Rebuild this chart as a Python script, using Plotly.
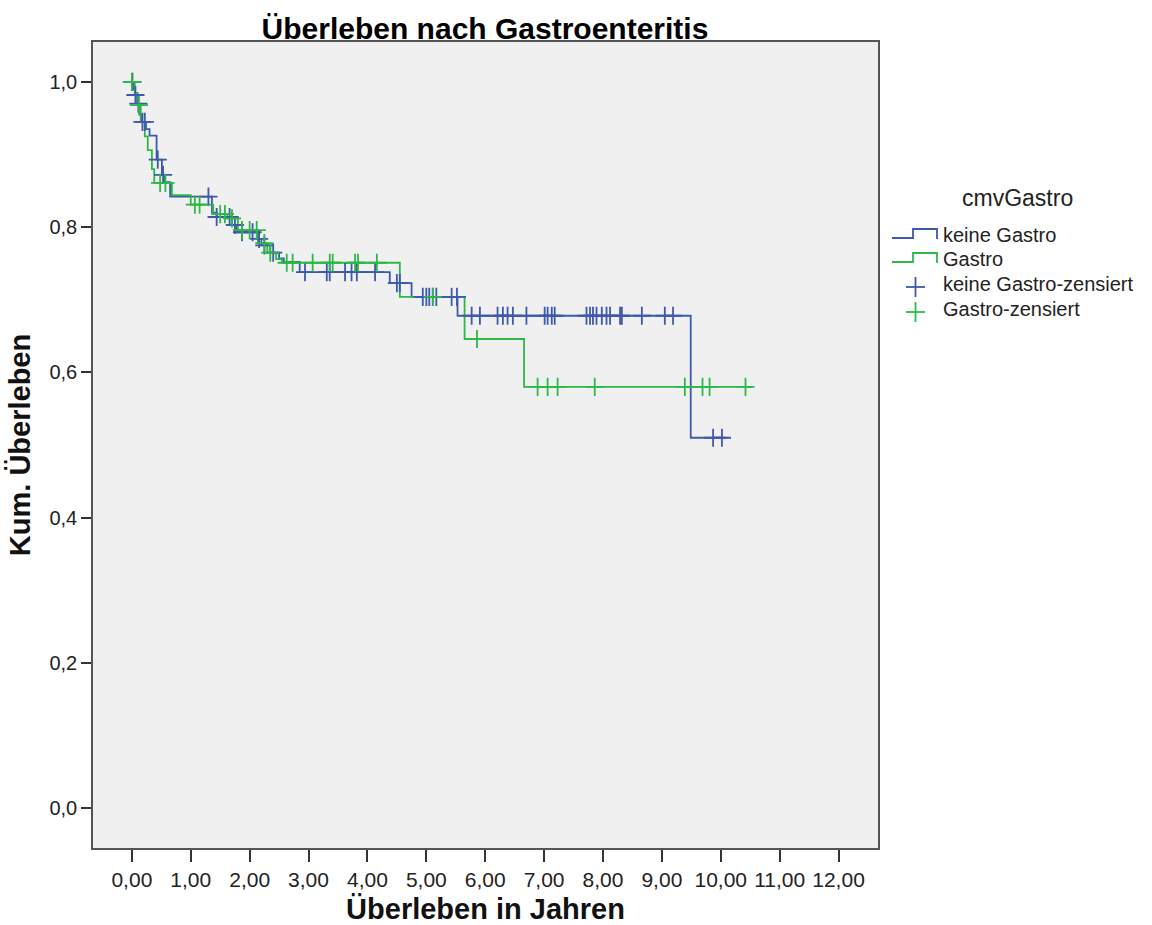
import numpy as np
import plotly.graph_objects as go

# ---------------- data ----------------
# keine Gastro: step times and survival after each step
blue_times = [0.00, 0.02, 0.05, 0.09, 0.13, 0.17, 0.24, 0.30, 0.42, 0.51, 0.56, 0.65,
              1.36, 1.44, 1.70, 1.78, 2.14, 2.20, 2.35, 2.50, 2.58, 2.85, 4.38, 4.75,
              5.53, 9.49]
blue_surv = [1.000, 0.990, 0.982, 0.970, 0.955, 0.945, 0.935, 0.926, 0.893, 0.872, 0.862, 0.842,
             0.820, 0.814, 0.803, 0.793, 0.784, 0.775, 0.765, 0.757, 0.752, 0.738, 0.723, 0.704,
             0.678, 0.510]
blue_end = 10.10
blue_censored = [0.01, 0.06, 0.11, 0.18, 0.22, 0.44, 0.53, 1.30, 1.44, 1.66, 1.75, 1.87,
                 2.05, 2.16, 2.25, 2.40, 2.94, 3.31, 3.36, 3.62, 3.73, 3.82, 4.13, 4.50,
                 4.55, 4.94, 5.00, 5.05, 5.11, 5.17, 5.43, 5.52, 5.77, 5.91, 6.21, 6.30,
                 6.38, 6.47, 6.70, 7.01, 7.06, 7.13, 7.18, 7.72, 7.78, 7.83, 7.89, 7.98,
                 8.06, 8.12, 8.29, 8.32, 8.66, 9.05, 9.19, 9.87, 10.02]

# Gastro
green_times = [0.00, 0.05, 0.10, 0.15, 0.22, 0.27, 0.34, 0.38, 0.68, 1.00, 1.38, 1.62,
               1.80, 2.14, 2.30, 2.45, 2.55, 4.55, 5.65, 6.66]
green_surv = [1.000, 0.985, 0.968, 0.945, 0.925, 0.906, 0.880, 0.861, 0.844, 0.831, 0.818, 0.812,
              0.796, 0.778, 0.765, 0.756, 0.751, 0.704, 0.646, 0.580]
green_end = 10.53
green_censored = [0.00, 0.12, 0.48, 0.57, 1.07, 1.15, 1.50, 1.58, 1.70, 1.87, 2.00, 2.12,
                  2.25, 2.35, 2.63, 2.73, 3.07, 3.36, 3.41, 3.79, 3.84, 4.16, 5.11, 5.86,
                  6.89, 7.06, 7.23, 7.86, 9.39, 9.69, 9.81, 10.42]

x_tickvals = list(range(0, 13))
x_ticktext = ["0,00", "1,00", "2,00", "3,00", "4,00", "5,00", "6,00", "7,00", "8,00",
              "9,00", "10,00", "11,00", "12,00"]
y_tickvals = [0.0, 0.2, 0.4, 0.6, 0.8, 1.0]
y_ticktext = ["0,0", "0,2", "0,4", "0,6", "0,8", "1,0"]

legend_title = "cmvGastro"
legend_labels = ["keine Gastro", "Gastro", "keine Gastro-zensiert", "Gastro-zensiert"]

BLUE = "#3E58AC"
GREEN = "#2EB848"
FONT = "Liberation Sans, Arial, sans-serif"

# plot-area geometry in pixels (used only to place the hand-drawn legend)
W, H = 1152, 925
ML, MR, MT, MB = 93, 274, 42, 77
PW, PH = W - ML - MR, H - MT - MB


def px(xp):
    return (xp - ML) / PW


def py(yp):
    return (H - MB - yp) / PH


def km_at(times, surv, t):
    idx = np.searchsorted(np.asarray(times), np.asarray(t), side="right") - 1
    return np.asarray(surv)[np.clip(idx, 0, len(surv) - 1)]


fig = go.Figure()
fig.add_trace(go.Scatter(x=blue_times + [blue_end], y=blue_surv + [blue_surv[-1]],
                         mode="lines", line=dict(color=BLUE, width=1.8, shape="hv"),
                         name=legend_labels[0], showlegend=False))
fig.add_trace(go.Scatter(x=green_times + [green_end], y=green_surv + [green_surv[-1]],
                         mode="lines", line=dict(color=GREEN, width=1.8, shape="hv"),
                         name=legend_labels[1], showlegend=False))
fig.add_trace(go.Scatter(x=blue_censored, y=km_at(blue_times, blue_surv, blue_censored),
                         mode="markers",
                         marker=dict(symbol="cross-thin", size=13, line=dict(color=BLUE, width=1.8)),
                         name=legend_labels[2], showlegend=False))
fig.add_trace(go.Scatter(x=green_censored, y=km_at(green_times, green_surv, green_censored),
                         mode="markers",
                         marker=dict(symbol="cross-thin", size=13, line=dict(color=GREEN, width=1.8)),
                         name=legend_labels[3], showlegend=False))

# ---------- hand-drawn legend (SPSS style step icons) ----------
shapes = []
annotations = []
annotations.append(dict(text=legend_title, x=px(1017), y=py(198), xref="paper", yref="paper",
                        xanchor="center", yanchor="middle", showarrow=False,
                        font=dict(size=23, color="#222", family=FONT)))
item_y = [235, 259, 284, 309]
colors = [BLUE, GREEN, BLUE, GREEN]
for i, (lab, yc, col) in enumerate(zip(legend_labels, item_y, colors)):
    annotations.append(dict(text=lab, x=px(941), y=py(yc), xref="paper", yref="paper",
                            xanchor="left", yanchor="middle", showarrow=False,
                            font=dict(size=20, color="#222", family=FONT)))
    if i < 2:
        lo, hi = yc + 3, yc - 6
        path = (f"M {px(892)},{py(lo)} L {px(913)},{py(lo)} L {px(913)},{py(hi)} "
                f"L {px(937)},{py(hi)} L {px(937)},{py(lo + 1)}")
        shapes.append(dict(type="path", path=path, xref="paper", yref="paper",
                           line=dict(color=col, width=1.8)))
    else:
        cy = yc + 3
        shapes.append(dict(type="line", xref="paper", yref="paper",
                           x0=px(906), x1=px(925), y0=py(cy), y1=py(cy),
                           line=dict(color=col, width=1.8)))
        shapes.append(dict(type="line", xref="paper", yref="paper",
                           x0=px(915.5), x1=px(915.5), y0=py(cy - 10), y1=py(cy + 10),
                           line=dict(color=col, width=1.8)))

fig.update_layout(
    width=W, height=H,
    margin=dict(l=ML, r=MR, t=MT, b=MB, autoexpand=False),
    paper_bgcolor="white",
    plot_bgcolor="#f0f0f0",
    font=dict(family=FONT, color="#111", size=20),
    title=dict(text="<b>Überleben nach Gastroenteritis</b>", x=0.421, xanchor="center",
               y=0.969, yanchor="middle", font=dict(size=30, family=FONT, color="#000")),
    xaxis=dict(range=[-0.66, 12.67], tickvals=x_tickvals, ticktext=x_ticktext,
               showgrid=False, zeroline=False, showline=True, mirror=True, automargin=False,
               linecolor="#555", linewidth=1.6, ticks="outside", ticklen=12, tickwidth=1.6,
               tickcolor="#333", tickfont=dict(size=21, color="#222"),
               title=dict(text="<b>Überleben in Jahren</b>", font=dict(size=29, color="#111"),
                          standoff=12)),
    yaxis=dict(range=[-0.055, 1.055], tickvals=y_tickvals, ticktext=y_ticktext,
               showgrid=False, zeroline=False, showline=True, mirror=True, automargin=False,
               linecolor="#555", linewidth=1.6, ticks="outside", ticklen=10, tickwidth=1.6,
               tickcolor="#333", tickfont=dict(size=20, color="#222"),
               title=dict(text="<b>Kum. Überleben</b>", font=dict(size=29, color="#111"),
                          standoff=10)),
    shapes=shapes,
    annotations=annotations,
    showlegend=False,
)

fig.write_html("out.html")
